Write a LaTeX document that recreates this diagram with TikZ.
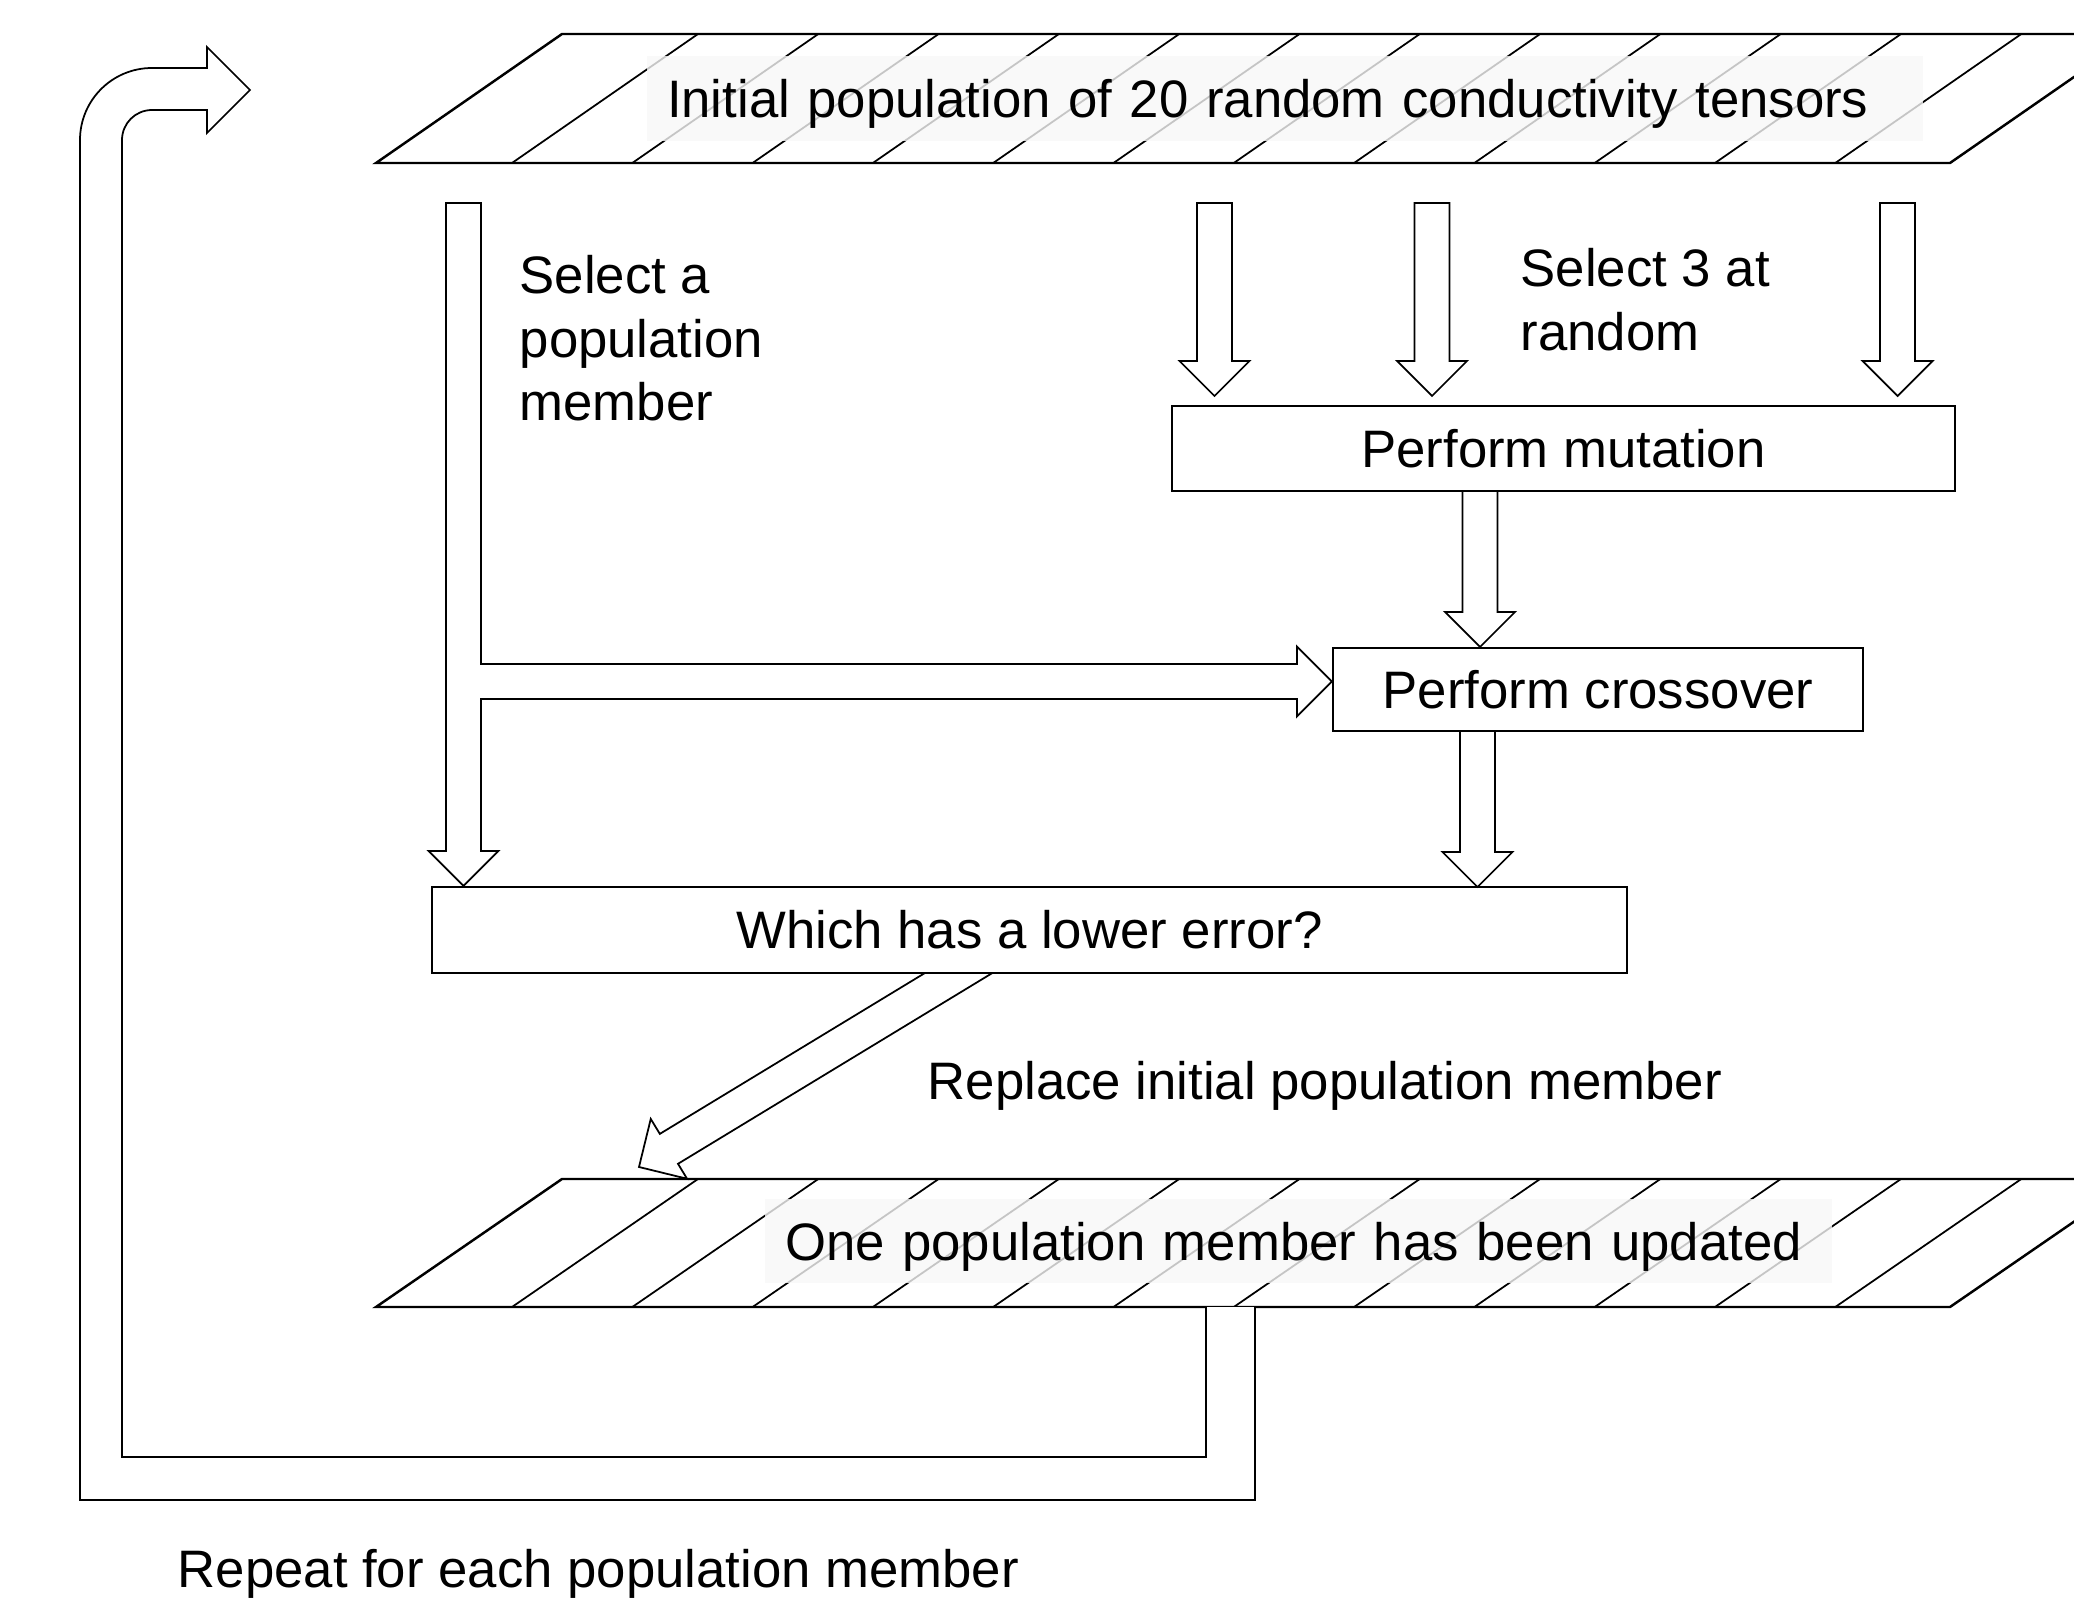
\documentclass[tikz,border=0pt]{standalone}
\usepackage{fontspec}
\setmainfont{Liberation Sans}
\usetikzlibrary{calc,backgrounds}

% hollow block arrow from #2 to #3, the optional #1 closes the tail
\newcommand{\fatarrow}[3][-- cycle]{%
  \coordinate (ah) at ($(#3)!0.35cm!(#2)$);
  \draw[arr] ($(#2)!0.175cm!90:(#3)$) -- ($(ah)!0.175cm!90:(#3)$) -- ($(ah)!0.35cm!90:(#3)$)
    -- (#3) -- ($(ah)!0.35cm!-90:(#3)$) -- ($(ah)!0.175cm!-90:(#3)$)
    -- ($(#2)!0.175cm!-90:(#3)$) #1;}

\begin{document}
\begin{tikzpicture}[every node/.style={font=\fontsize{15pt}{18pt}\selectfont},
  box/.style={draw,fill=white,line width=0.6pt,inner sep=0pt},
  band/.style={fill=black!3,fill opacity=0.8,text opacity=1,inner xsep=0.2cm,inner ysep=0pt,
    minimum height=0.85cm,text height=0.45cm,text depth=0.06cm,align=left},
  lbl/.style={inner sep=0pt,align=left},
  arr/.style={draw,fill=white,line width=0.5pt}]
  \useasboundingbox (0,0) rectangle (20.74,-16.05);
  \clip (0,0) rectangle (20.74,-16.05);

  % hatched population bands
  \foreach \yb/\hb in {-1.63/1.29,-13.07/1.28} {
    \draw[line width=0.7pt] (3.76,\yb) -- ++(1.86,\hb) -- ++(15.74,0) -- ++(-1.86,-\hb) -- cycle;
    \foreach \k in {0,...,11}
      \draw[line width=0.5pt] (5.12+1.203*\k,\yb) -- ++(1.86,\hb);
  }
  \node[band,text width=12.36cm] (init) at (12.85,-0.985) {Initial population of 20 random conductivity tensors};
  \node[band,text width=10.27cm,minimum height=0.84cm] (upd) at (12.985,-12.41) {One population member has been updated};

  \node[box,minimum width=7.83cm,minimum height=0.85cm] (mut) at (15.635,-4.485) {Perform mutation};
  \node[box,minimum width=5.30cm,minimum height=0.83cm] (cross) at (15.98,-6.895) {Perform crossover};
  \node[box,minimum width=11.95cm,minimum height=0.86cm] (err) at (10.295,-9.30) {Which has a lower error?};

  % selected member goes straight down and off to crossover
  \coordinate (sel) at (4.635,-2.03);
  \coordinate (selend) at (sel |- err.north);
  \fatarrow{sel}{selend}
  \coordinate (br) at (4.80,-6.815);
  \coordinate (brend) at (cross.west |- br);
  \fatarrow[]{br}{brend}

  % three picked at random
  \foreach \x [count=\i] in {12.145,14.32,18.975} {
    \coordinate (s\i) at (\x,-2.03);
    \coordinate (t\i) at (\x,-3.96);
    \fatarrow{s\i}{t\i}
  }
  \coordinate (m1) at (14.80,-4.91);
  \coordinate (m2) at (14.80,-6.47);
  \fatarrow{m1}{m2}
  \coordinate (c1) at (14.775,-7.31);
  \coordinate (c2) at (14.775,-8.87);
  \fatarrow{c1}{c2}

  % replace: tail hidden behind the error box
  \coordinate (rtip) at (6.39,-11.67);
  \begin{scope}[on background layer]
    \fatarrow{err.center}{rtip}
  \end{scope}

  \node[lbl,anchor=north west] (selone) at (5.19,-2.55) {Select a\\population\\member};
  \node[lbl,anchor=north west] (selthree) at (15.20,-2.48) {Select 3 at\\random};
  \node[lbl,anchor=base west] (repl) at (9.27,-10.99) {Replace initial population member};
  \node[lbl,anchor=base west] (again) at (1.77,-15.87) {Repeat for each population member};

  % loop back to the top
  \draw[arr] (12.06,-13.07) -- (12.06,-14.57) -- (1.22,-14.57) -- (1.22,-1.40)
    arc[start angle=180,end angle=90,radius=0.30] -- (2.07,-1.10) -- (2.07,-1.33) -- (2.50,-0.90)
    -- (2.07,-0.47) -- (2.07,-0.68) -- (1.52,-0.68) arc[start angle=90,end angle=180,radius=0.72]
    -- (0.80,-15.00) -- (12.55,-15.00) -- (12.55,-13.07);
\end{tikzpicture}
\end{document}
